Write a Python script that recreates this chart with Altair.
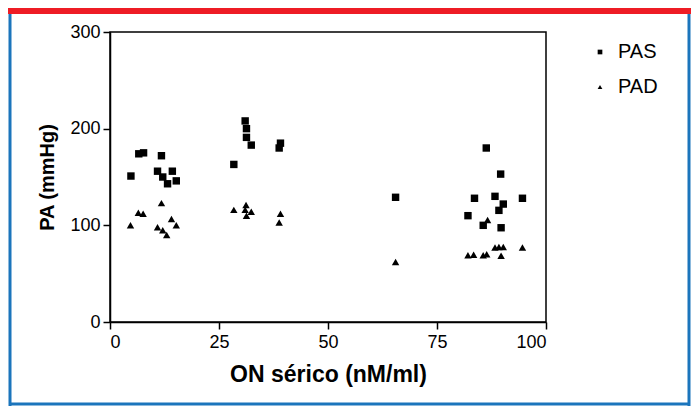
import altair as alt
import pandas as pd

# Serum NO (nM/ml) and blood pressure (mmHg)
pas_x = [4.8, 6.6, 7.7, 10.9, 11.8, 12.1, 13.2, 14.3, 15.2,
         28.4, 31.0, 31.3, 31.3, 32.4, 38.8, 39.1,
         65.5, 82.1, 83.6, 85.6, 86.3, 88.3, 89.2, 89.6, 89.7, 90.2, 94.6]
pas_y = [151, 174, 175, 156, 172, 150, 143, 156, 146,
         163, 208, 200, 191, 183, 180, 185,
         129, 110, 128, 100, 180, 130, 115.5, 153, 97.5, 122, 128]
pad_x = [4.7, 6.5, 7.6, 10.9, 11.8, 12.1, 13.0, 14.1, 15.2,
         28.4, 31.0, 31.2, 31.3, 32.4, 38.8, 39.1,
         65.5, 82.1, 83.4, 85.6, 86.4, 86.6, 88.3, 89.2, 89.7, 90.2, 94.6]
pad_y = [100, 113, 112, 98, 123, 95, 90, 106.5, 100,
         116, 116, 121, 110, 114, 103, 112,
         62, 69, 69.6, 69, 70, 105.5, 77, 77.5, 68.6, 77.5, 77]

series = ["PAS", "PAD"]
x_ticks = [0, 25, 50, 75, 100]
y_ticks = [0, 100, 200, 300]

df = pd.DataFrame({
    "x": pas_x + pad_x,
    "y": pas_y + pad_y,
    "serie": ["PAS"] * len(pas_x) + ["PAD"] * len(pad_x),
})

FONT = "Liberation Sans"

points = alt.Chart(df).mark_point(filled=True, opacity=1, size=55, color="black").encode(
    x=alt.X("x:Q", scale=alt.Scale(domain=[0, 100], nice=False),
            axis=alt.Axis(values=x_ticks, title="ON sérico (nM/ml)", grid=False,
                          labelFontSize=18, titleFontSize=23, titleFontWeight="bold",
                          titlePadding=12, labelPadding=4)),
    y=alt.Y("y:Q", scale=alt.Scale(domain=[0, 300], nice=False),
            axis=alt.Axis(values=y_ticks, title="PA (mmHg)", grid=False,
                          labelFontSize=18, titleFontSize=20, titleFontWeight="bold",
                          titlePadding=12, labelPadding=3)),
    shape=alt.Shape("serie:N",
                    scale=alt.Scale(domain=series, range=["square", "triangle-up"]),
                    legend=alt.Legend(title=None, orient="none", legendX=480, legendY=10,
                                      labelFontSize=20, symbolSize=22, symbolFillColor="black",
                                      symbolStrokeColor="black", rowPadding=15,
                                      labelOffset=8)),
)

frame_df = pd.DataFrame({"k": [0]})
blue = "#1b75bc"
red = "#ee1c25"
top_bar = alt.Chart(frame_df).mark_rule(color=red, strokeWidth=6).encode(
    x=alt.value(-102), x2=alt.value(581), y=alt.value(-21))
left_b = alt.Chart(frame_df).mark_rule(color=blue, strokeWidth=3).encode(
    x=alt.value(-100), y=alt.value(-18), y2=alt.value(374))
right_b = alt.Chart(frame_df).mark_rule(color=blue, strokeWidth=3).encode(
    x=alt.value(579), y=alt.value(-18), y2=alt.value(374))
bottom_b = alt.Chart(frame_df).mark_rule(color=blue, strokeWidth=3).encode(
    x=alt.value(-101), x2=alt.value(580), y=alt.value(372))

chart = alt.layer(points, top_bar, left_b, right_b, bottom_b).properties(
    width=436, height=290,
    autosize=alt.AutoSizeParams(type="none"),
    padding={"left": 102, "top": 24, "right": 145, "bottom": 84},
    background="white",
).configure_view(
    stroke="black", strokeWidth=1.5
).configure_axis(
    domainColor="black", domainWidth=1.5, tickColor="black", tickWidth=1.5, tickSize=7,
    labelColor="black", titleColor="black", labelFont=FONT, titleFont=FONT,
).configure_legend(
    labelFont=FONT, labelColor="black"
)

chart.save("out.html", embed_options={"renderer": "svg", "actions": False})
